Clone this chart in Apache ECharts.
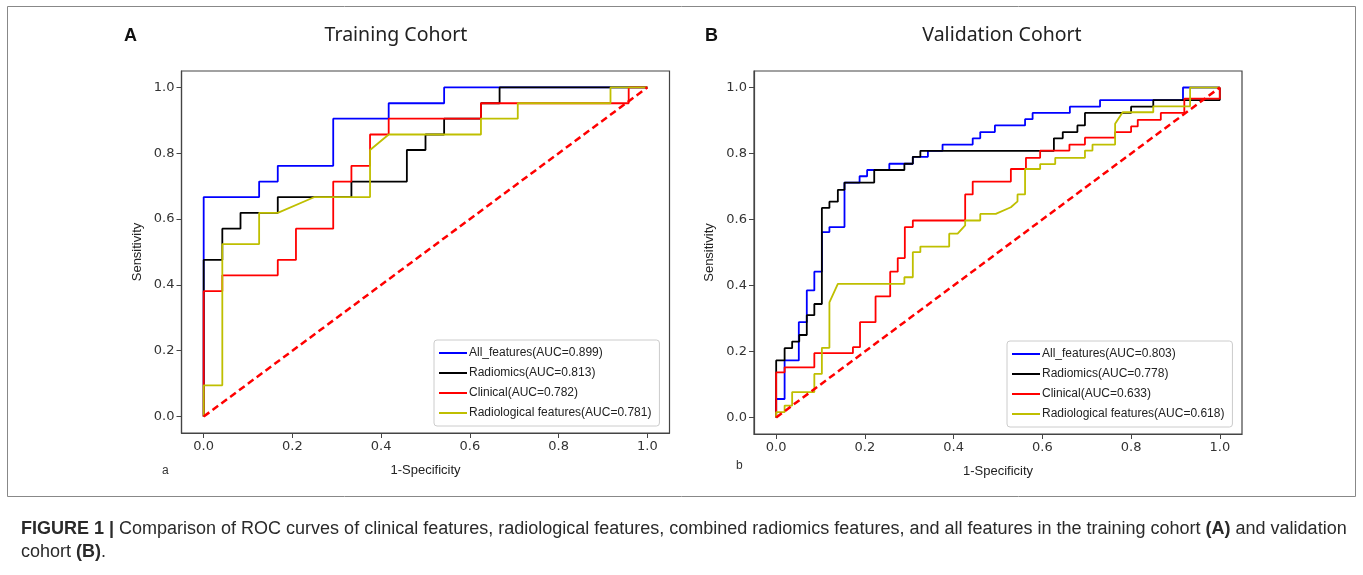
<!DOCTYPE html>
<html>
<head>
<meta charset="utf-8">
<script src="https://cdn.jsdelivr.net/npm/echarts@6/dist/echarts.min.js"></script>
<style>
  html, body { margin: 0; padding: 0; background: #fff; }
  #chart1 { width: 1363px; height: 575px; }
</style>
</head>
<body>
<div id="chart1"></div>
<script>
// tick labels on both axes
var tickValues = [0, 0.2, 0.4, 0.6, 0.8, 1.0];

// legend names
var trainNames = ['All_features(AUC=0.899)', 'Radiomics(AUC=0.813)', 'Clinical(AUC=0.782)', 'Radiological features(AUC=0.781)'];
var validNames = ['All_features(AUC=0.803)', 'Radiomics(AUC=0.778)', 'Clinical(AUC=0.633)', 'Radiological features(AUC=0.618)'];
var lineColors = ['#0000ff', '#000000', '#ff0000', '#bfbf00'];

// training cohort, [1-specificity, sensitivity]
var trainAll = [[0,0],[0,0.667],[0.125,0.667],[0.125,0.714],[0.167,0.714],[0.167,0.762],[0.292,0.762],[0.292,0.905],[0.417,0.905],[0.417,0.952],[0.542,0.952],[0.542,1],[1,1]];
var trainRadiomics = [[0,0],[0,0.476],[0.042,0.476],[0.042,0.571],[0.083,0.571],[0.083,0.619],[0.167,0.619],[0.167,0.667],[0.333,0.667],[0.333,0.714],[0.458,0.714],[0.458,0.81],[0.5,0.81],[0.5,0.857],[0.542,0.857],[0.542,0.905],[0.625,0.905],[0.625,0.952],[0.667,0.952],[0.667,1],[1,1]];
var trainClinical = [[0,0],[0,0.381],[0.042,0.381],[0.042,0.429],[0.167,0.429],[0.167,0.476],[0.208,0.476],[0.208,0.571],[0.292,0.571],[0.292,0.714],[0.333,0.714],[0.333,0.762],[0.375,0.762],[0.375,0.857],[0.417,0.857],[0.417,0.905],[0.625,0.905],[0.625,0.952],[0.958,0.952],[0.958,1],[1,1]];
var trainRadiological = [[0,0],[0,0.095],[0.042,0.095],[0.042,0.524],[0.125,0.524],[0.125,0.619],[0.167,0.619],[0.25,0.667],[0.375,0.667],[0.375,0.81],[0.417,0.857],[0.625,0.857],[0.625,0.905],[0.708,0.905],[0.708,0.952],[0.917,0.952],[0.917,1],[1,1]];

// validation cohort
var validAll = [[0,0],[0,0.056],[0.019,0.056],[0.019,0.173],[0.051,0.173],[0.051,0.289],[0.069,0.289],[0.069,0.385],[0.086,0.385],[0.086,0.442],[0.103,0.442],[0.103,0.562],[0.12,0.562],[0.12,0.577],[0.154,0.577],[0.154,0.712],[0.188,0.712],[0.188,0.731],[0.205,0.731],[0.205,0.75],[0.255,0.75],[0.255,0.769],[0.308,0.769],[0.308,0.79],[0.342,0.79],[0.342,0.808],[0.375,0.808],[0.375,0.827],[0.443,0.827],[0.443,0.846],[0.46,0.846],[0.46,0.865],[0.493,0.865],[0.493,0.885],[0.561,0.885],[0.561,0.904],[0.578,0.904],[0.578,0.923],[0.662,0.923],[0.662,0.942],[0.73,0.942],[0.73,0.962],[0.917,0.962],[0.917,1],[1,1]];
var validRadiomics = [[0,0],[0,0.173],[0.019,0.173],[0.019,0.21],[0.036,0.21],[0.036,0.23],[0.052,0.23],[0.052,0.25],[0.069,0.25],[0.069,0.31],[0.086,0.31],[0.086,0.344],[0.103,0.344],[0.103,0.635],[0.12,0.635],[0.12,0.654],[0.139,0.654],[0.139,0.69],[0.154,0.69],[0.154,0.712],[0.221,0.712],[0.221,0.75],[0.289,0.75],[0.289,0.769],[0.308,0.769],[0.308,0.79],[0.325,0.79],[0.325,0.808],[0.626,0.808],[0.626,0.846],[0.646,0.846],[0.646,0.865],[0.679,0.865],[0.679,0.885],[0.696,0.885],[0.696,0.923],[0.8,0.923],[0.8,0.942],[0.85,0.942],[0.85,0.962],[1,0.962],[1,1]];
var validClinical = [[0,0],[0,0.137],[0.019,0.137],[0.019,0.152],[0.086,0.152],[0.086,0.195],[0.173,0.195],[0.173,0.213],[0.189,0.213],[0.189,0.289],[0.224,0.289],[0.224,0.367],[0.257,0.367],[0.257,0.442],[0.274,0.442],[0.274,0.483],[0.29,0.483],[0.29,0.577],[0.308,0.577],[0.308,0.597],[0.426,0.597],[0.426,0.676],[0.443,0.676],[0.443,0.715],[0.529,0.715],[0.529,0.753],[0.563,0.753],[0.563,0.787],[0.595,0.787],[0.595,0.809],[0.661,0.809],[0.661,0.827],[0.696,0.827],[0.696,0.848],[0.764,0.848],[0.764,0.865],[0.8,0.865],[0.8,0.882],[0.815,0.882],[0.815,0.902],[0.867,0.902],[0.867,0.923],[0.92,0.923],[0.92,0.966],[1,0.966],[1,1]];
var validRadiological = [[0,0],[0,0.016],[0.019,0.016],[0.019,0.036],[0.036,0.036],[0.036,0.077],[0.086,0.077],[0.086,0.132],[0.103,0.132],[0.103,0.211],[0.12,0.211],[0.12,0.349],[0.139,0.405],[0.289,0.405],[0.289,0.425],[0.308,0.425],[0.308,0.501],[0.325,0.501],[0.325,0.518],[0.39,0.518],[0.39,0.557],[0.409,0.557],[0.426,0.582],[0.426,0.597],[0.46,0.597],[0.46,0.617],[0.495,0.617],[0.529,0.637],[0.544,0.655],[0.544,0.676],[0.561,0.676],[0.561,0.753],[0.595,0.753],[0.595,0.768],[0.629,0.768],[0.629,0.787],[0.696,0.787],[0.696,0.809],[0.713,0.809],[0.713,0.827],[0.764,0.827],[0.764,0.89],[0.781,0.925],[0.85,0.925],[0.85,0.943],[0.933,0.943],[0.933,1],[1,1]];

// chance line
var chanceLine = [[0,0],[1,1]];

var trainData = [trainAll, trainRadiomics, trainClinical, trainRadiological];
var validData = [validAll, validRadiomics, validClinical, validRadiological];

var dom = document.getElementById('chart1');
var myChart = echarts.init(dom, null, { renderer: 'canvas' });

var tickFont = { fontSize: 13, color: '#333', fontFamily: 'DejaVu Sans' };

function makeX(idx) {
    return {
        type: 'value', gridIndex: idx, min: -0.05, max: 1.05,
        name: '1-Specificity', nameLocation: 'middle', nameGap: 31,
        nameTextStyle: { fontSize: 13, color: '#222', fontFamily: 'Liberation Sans' },
        splitLine: { show: false },
        axisLine: { onZero: false, lineStyle: { color: '#444', width: 1.2 } },
        axisTick: { length: 5, customValues: tickValues, lineStyle: { color: '#444' } },
        axisLabel: Object.assign({ customValues: tickValues, margin: 7, formatter: function (v) { return v.toFixed(1); } }, tickFont)
    };
}
function makeY(idx) {
    return {
        type: 'value', gridIndex: idx, min: -0.05, max: 1.05,
        name: 'Sensitivity', nameLocation: 'middle', nameGap: 38,
        nameTextStyle: { fontSize: 13, color: '#222', fontFamily: 'Liberation Sans' },
        splitLine: { show: false },
        axisLine: { onZero: false, lineStyle: { color: '#444', width: 1.2 } },
        axisTick: { length: 5, customValues: tickValues, lineStyle: { color: '#444' } },
        axisLabel: Object.assign({ customValues: tickValues, margin: 7, formatter: function (v) { return v.toFixed(1); } }, tickFont)
    };
}

function makeSeries(names, data, idx) {
    var out = [];
    for (var i = 0; i < names.length; i++) {
        out.push({
            name: names[i], type: 'line', xAxisIndex: idx, yAxisIndex: idx,
            data: data[i], symbol: 'none', color: lineColors[i],
            lineStyle: { width: 1.8, color: lineColors[i] }, z: 2 + i
        });
    }
    out.push({
        name: 'chance' + idx, type: 'line', xAxisIndex: idx, yAxisIndex: idx,
        data: chanceLine, symbol: 'none', z: 10,
        lineStyle: { width: 2.5, color: '#ff0000', type: [7, 4] }
    });
    return out;
}

function makeLegend(names, left, top) {
    return {
        data: names, orient: 'vertical', left: left, top: top,
        icon: 'rect', itemWidth: 28, itemHeight: 2, itemGap: 6,
        padding: [6, 8, 6, 5], backgroundColor: '#fff',
        borderColor: '#ccc', borderWidth: 1, borderRadius: 3,
        textStyle: { fontSize: 12, color: '#222', fontFamily: 'Liberation Sans', lineHeight: 14, padding: [0, 0, 0, -3] },
        selectedMode: false
    };
}

var captionText = '{b|FIGURE 1 |} Comparison of ROC curves of clinical features, radiological features, combined radiomics features, and all features in the training cohort {b|(A)} and validation\ncohort {b|(B)}.';

myChart.setOption({
    animation: false,
    backgroundColor: '#fff',
    title: [
        { text: 'A', left: 119, top: 22, textStyle: { fontSize: 18, fontWeight: 'bold', color: '#111', fontFamily: 'Liberation Sans' } },
        { text: 'Training Cohort', left: 391, top: 20, textAlign: 'center', textStyle: { fontSize: 19.5, fontWeight: 'normal', color: '#222', fontFamily: 'Noto Sans' } },
        { text: 'B', left: 700, top: 22, textStyle: { fontSize: 18, fontWeight: 'bold', color: '#111', fontFamily: 'Liberation Sans' } },
        { text: 'Validation Cohort', left: 997, top: 20, textAlign: 'center', textStyle: { fontSize: 19.5, fontWeight: 'normal', color: '#222', fontFamily: 'Noto Sans' } },
        { text: 'a', left: 157, top: 460, textStyle: { fontSize: 12, fontWeight: 'normal', color: '#333', fontFamily: 'Liberation Sans' } },
        { text: 'b', left: 731, top: 455, textStyle: { fontSize: 12, fontWeight: 'normal', color: '#333', fontFamily: 'Liberation Sans' } },
        {
            text: captionText, left: 16, top: 513,
            textStyle: {
                fontSize: 18, fontWeight: 'normal', color: '#2a2a2a', fontFamily: 'Liberation Sans', lineHeight: 23,
                rich: { b: { fontSize: 18, fontWeight: 'bold', color: '#2a2a2a', fontFamily: 'Liberation Sans', lineHeight: 23 } }
            }
        }
    ],
    graphic: [
        { type: 'rect', shape: { x: 7.5, y: 6.5, width: 1348, height: 490 }, style: { fill: 'none', stroke: '#888', lineWidth: 1 }, silent: true }
    ],
    grid: [
        { left: 181.5, top: 71, width: 488, height: 362, show: true, borderColor: '#444', borderWidth: 1.2, backgroundColor: 'transparent' },
        { left: 754, top: 71, width: 488, height: 363, show: true, borderColor: '#444', borderWidth: 1.2, backgroundColor: 'transparent' }
    ],
    xAxis: [makeX(0), makeX(1)],
    yAxis: [makeY(0), makeY(1)],
    legend: [makeLegend(trainNames, 434, 340), makeLegend(validNames, 1007, 341)],
    series: makeSeries(trainNames, trainData, 0).concat(makeSeries(validNames, validData, 1))
});
</script>
</body>
</html>
